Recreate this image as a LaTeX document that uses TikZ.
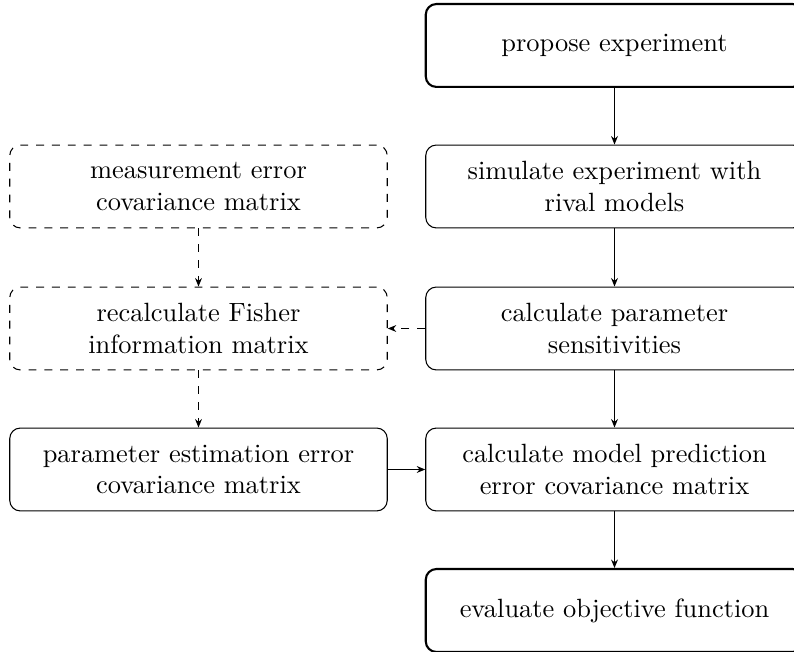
\documentclass[tikz,border=0pt]{standalone}
\usetikzlibrary{arrows.meta}
\begin{document}
\begin{tikzpicture}[x=0.3788pt,y=-0.3788pt,
 box/.style={draw, rounded corners=4pt, minimum width=143pt, minimum height=31.4pt, align=center, inner sep=0pt},
 boldbox/.style={box, line width=0.8pt},
 dbox/.style={box, dashed},
 arr/.style={-{Stealth[length=3.2pt,width=2.6pt]}},
 darr/.style={arr, dashed}]
\useasboundingbox (0,0) rectangle (794,652);
\clip (0,0) rectangle (794,652);
\node[boldbox] (p) at (614.5,45.5) {propose experiment};
\node[box] (s) at (614.5,186.5) {simulate experiment with\\rival models};
\node[box] (c) at (614.5,328.5) {calculate parameter\\sensitivities};
\node[box] (m) at (614.5,469.5) {calculate model prediction\\error covariance matrix};
\node[boldbox] (e) at (614.5,610.5) {evaluate objective function};
\node[dbox] (me) at (198.5,186.5) {measurement error\\covariance matrix};
\node[dbox] (f) at (198.5,328.5) {recalculate Fisher\\information matrix};
\node[box] (pe) at (198.5,469.5) {parameter estimation error\\covariance matrix};
\draw[arr] (p) -- (s);
\draw[arr] (s) -- (c);
\draw[arr] (c) -- (m);
\draw[arr] (m) -- (e);
\draw[darr] (me) -- (f);
\draw[darr] (f) -- (pe);
\draw[darr] (c) -- (f);
\draw[arr] (pe) -- (m);
\end{tikzpicture}
\end{document}
